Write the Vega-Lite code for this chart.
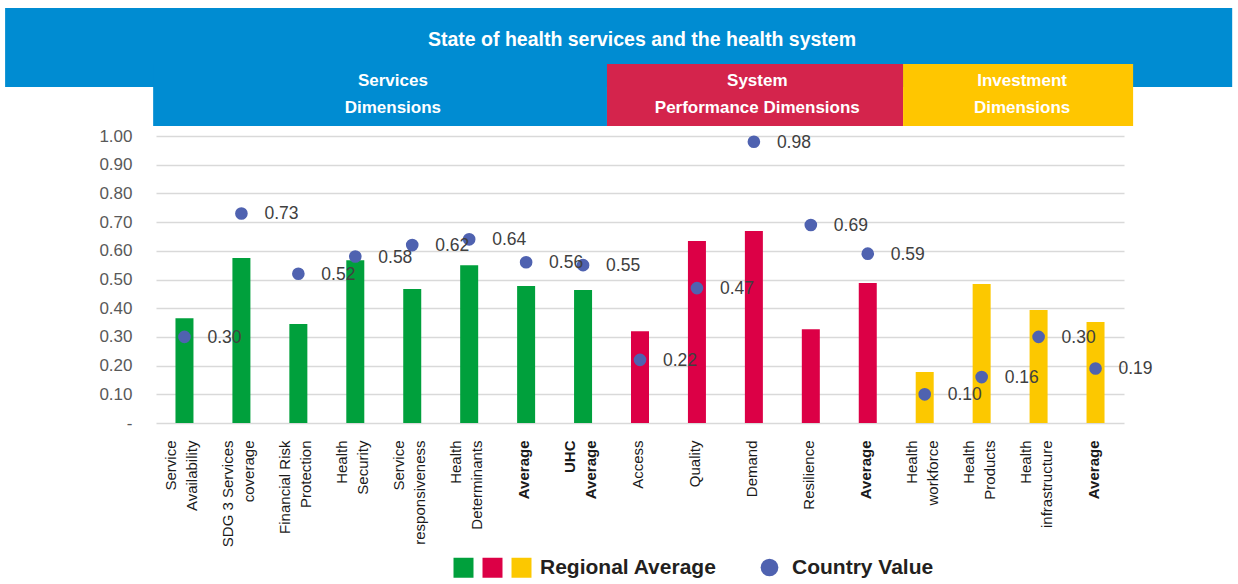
{
  "$schema": "https://vega.github.io/schema/vega-lite/v6.json",
  "width": 968,
  "height": 287,
  "autosize": {"type": "none"},
  "padding": {"left": 156, "top": 136, "right": 114, "bottom": 161},
  "background": "white",
  "config": {"view": {"stroke": null}, "axisY": {"tickCount": 11}},
  "datasets": {
    "scores": [
      {"cat": "Service|Availability", "group": "Services", "regional": 0.365, "country": 0.30},
      {"cat": "SDG 3 Services|coverage", "group": "Services", "regional": 0.575, "country": 0.73},
      {"cat": "Financial Risk|Protection", "group": "Services", "regional": 0.345, "country": 0.52},
      {"cat": "Health|Security", "group": "Services", "regional": 0.567, "country": 0.58},
      {"cat": "Service|responsiveness", "group": "Services", "regional": 0.467, "country": 0.62},
      {"cat": "Health|Determinants", "group": "Services", "regional": 0.55, "country": 0.64},
      {"cat": "Average", "group": "Services", "regional": 0.477, "country": 0.56},
      {"cat": "UHC|Average", "group": "Services", "regional": 0.463, "country": 0.55},
      {"cat": "Access", "group": "System", "regional": 0.32, "country": 0.22},
      {"cat": "Quality", "group": "System", "regional": 0.634, "country": 0.47},
      {"cat": "Demand", "group": "System", "regional": 0.669, "country": 0.98},
      {"cat": "Resilience", "group": "System", "regional": 0.327, "country": 0.69},
      {"cat": "Average ", "group": "System", "regional": 0.488, "country": 0.59},
      {"cat": "Health|workforce", "group": "Investment", "regional": 0.178, "country": 0.10},
      {"cat": "Health|Products", "group": "Investment", "regional": 0.484, "country": 0.16},
      {"cat": "Health|infrastructure", "group": "Investment", "regional": 0.394, "country": 0.30},
      {"cat": "Average  ", "group": "Investment", "regional": 0.352, "country": 0.19}
    ],
    "headers": [
      {"name": "Services", "label": "Services|Dimensions", "start": -0.05, "end": 7.92, "center": 4.16},
      {"name": "System", "label": "System|Performance Dimensions", "start": 7.92, "end": 13.12, "center": 10.56},
      {"name": "Investment", "label": "Investment|Dimensions", "start": 13.12, "end": 17.16, "center": 15.21}
    ],
    "banner": [
      {"title": "State of health services and the health system"}
    ]
  },
  "resolve": {
    "scale": {"x": "independent", "color": "independent"},
    "axis": {"x": "independent"}
  },
  "layer": [
    {
      "data": {"name": "banner"},
      "mark": {"type": "rect", "color": "#008CD2"},
      "encoding": {
        "x": {"datum": -2.65, "type": "quantitative", "scale": {"domain": [0, 17], "nice": false, "zero": false}, "axis": null},
        "x2": {"datum": 18.9},
        "y": {"datum": 1.446, "type": "quantitative"},
        "y2": {"datum": 1.1707}
      }
    },
    {
      "data": {"name": "headers"},
      "layer": [
        {
          "mark": {"type": "rect"},
          "encoding": {
            "x": {"field": "start", "type": "quantitative", "scale": {"domain": [0, 17], "nice": false, "zero": false}, "axis": null},
            "x2": {"field": "end"},
            "y": {"datum": 1.2509, "type": "quantitative"},
            "y2": {"datum": 1.0348},
            "color": {"field": "name", "type": "nominal", "scale": {"domain": ["Services", "System", "Investment"], "range": ["#008CD2", "#D4244C", "#FFC600"]}, "legend": null}
          }
        },
        {
          "mark": {"type": "text", "color": "white", "font": "Liberation Sans", "fontSize": 17, "fontWeight": "bold", "lineBreak": "|", "lineHeight": 27, "align": "center", "baseline": "middle"},
          "encoding": {
            "x": {"field": "center", "type": "quantitative", "scale": {"domain": [0, 17], "nice": false, "zero": false}, "axis": null},
            "y": {"datum": 1.1916, "type": "quantitative"},
            "text": {"field": "label"}
          }
        }
      ],
      "resolve": {"scale": {"x": "shared"}}
    },
    {
      "data": {"name": "banner"},
      "mark": {"type": "text", "color": "white", "font": "Liberation Sans", "fontSize": 19.5, "fontWeight": "bold", "align": "center", "baseline": "middle"},
      "encoding": {
        "x": {"datum": 8.535, "type": "quantitative", "scale": {"domain": [0, 17], "nice": false, "zero": false}, "axis": null},
        "y": {"datum": 1.3345, "type": "quantitative"},
        "text": {"field": "title"}
      }
    },
    {
      "data": {"name": "scores"},
      "encoding": {
        "x": {
          "field": "cat", "type": "nominal", "sort": null,
          "scale": {"paddingInner": 0, "paddingOuter": 0},
          "axis": {
            "title": null, "ticks": false, "domain": false, "grid": false,
            "labelAngle": -90, "labelAlign": "right", "labelBaseline": "middle",
            "labelPadding": 17,
            "labelOffset": {"condition": {"test": "indexof(datum.value, '|') >= 0", "value": -13}, "value": -2},
            "labelFont": "Liberation Sans",
            "labelFontSize": 15, "labelLineHeight": 21, "labelColor": "#1a1a1a",
            "labelLimit": 300, "labelOverlap": false,
            "labelExpr": "split(trim(datum.value), '|')",
            "labelFontWeight": {"condition": {"test": "indexof(datum.value, 'Average') >= 0", "value": "bold"}, "value": "normal"}
          }
        }
      },
      "layer": [
        {
          "mark": {"type": "bar", "width": 18},
          "encoding": {
            "y": {
              "field": "regional", "type": "quantitative",
              "scale": {"domain": [0, 1], "nice": false},
              "axis": {
                "title": null, "ticks": false, "domain": false, "grid": true,
                "values": [0, 0.1, 0.2, 0.3, 0.4, 0.5, 0.6, 0.7, 0.8, 0.9, 1], "tickCount": 11,
                "labelExpr": "datum.value == 0 ? '-' : format(datum.value, '.2f')",
                "labelFont": "Liberation Sans", "labelFontSize": 17, "labelColor": "#595959",
                "labelPadding": 24, "labelOverlap": false,
                "gridColor": "#D9D9D9", "gridWidth": 1.3
              }
            },
            "color": {
              "field": "group", "type": "nominal",
              "scale": {"domain": ["Services", "System", "Investment"], "range": ["#00A03C", "#DC0046", "#FCC800"]},
              "legend": {
                "orient": "none", "legendX": 297, "legendY": 421, "direction": "horizontal",
                "title": null, "symbolType": "square", "symbolSize": 400, "symbolStrokeWidth": 0,
                "symbolOpacity": 1, "padding": 0, "columnPadding": 0, "labelOffset": 8, "labelLimit": 400,
                "labelExpr": "datum.label == 'Investment' ? '\u2002Regional Average' : ''",
                "labelFont": "Liberation Sans", "labelFontSize": 21, "labelFontWeight": "bold", "labelColor": "#231F20"
              }
            }
          }
        },
        {
          "mark": {"type": "point", "filled": true, "size": 160, "opacity": 1, "color": "#4F62B0"},
          "encoding": {
            "y": {"field": "country", "type": "quantitative"},
            "shape": {
              "datum": "Country Value",
              "scale": {"range": ["circle"]},
              "legend": {
                "orient": "none", "legendX": 603, "legendY": 421, "title": null,
                "symbolSize": 314, "symbolFillColor": "#5A7FC4", "symbolStrokeWidth": 0, "padding": 0, "labelLimit": 400,
                "labelOffset": 12, "labelFont": "Liberation Sans", "labelFontSize": 21, "labelFontWeight": "bold", "labelColor": "#231F20"
              }
            }
          }
        },
        {
          "mark": {"type": "text", "align": "left", "baseline": "middle", "dx": 23, "dy": 1, "font": "Liberation Sans", "fontSize": 17.5, "color": "#404040"},
          "encoding": {
            "y": {"field": "country", "type": "quantitative"},
            "text": {"field": "country", "type": "quantitative", "format": ".2f"}
          }
        }
      ]
    }
  ]
}
